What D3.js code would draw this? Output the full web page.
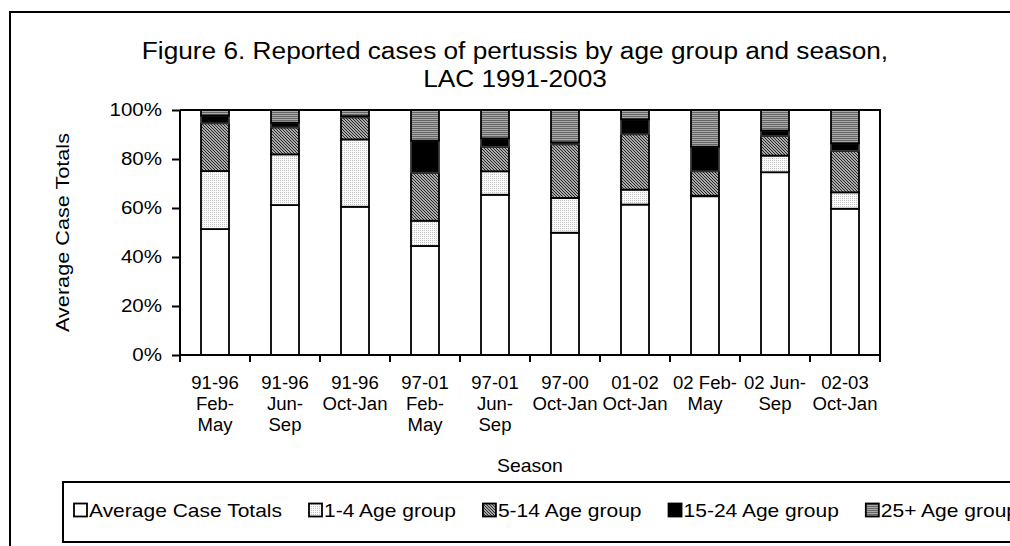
<!DOCTYPE html>
<html><head><meta charset="utf-8">
<script src="https://cdn.jsdelivr.net/npm/d3@7"></script>
<style>
html,body{margin:0;padding:0;background:#fff;}
svg{display:block;font-family:"Liberation Sans",Arial,sans-serif;}
</style></head>
<body><svg id="c" width="1010" height="546"></svg>
<script>
const categories = [
  ["91-96","Feb-","May"],["91-96","Jun-","Sep"],["91-96","Oct-Jan"],
  ["97-01","Feb-","May"],["97-01","Jun-","Sep"],["97-00","Oct-Jan"],
  ["01-02","Oct-Jan"],["02 Feb-","May"],["02 Jun-","Sep"],["02-03","Oct-Jan"]
];
const seriesNames = ["Average Case Totals","1-4 Age group","5-14 Age group","15-24 Age group","25+ Age group"];
const avgCaseTotals = [51.4, 61.2, 60.5, 44.5, 65.4, 49.9, 61.4, 64.8, 74.6, 59.7];
const age1to4      = [23.7, 20.7, 27.5, 10.3,  9.6, 14.2,  6.1,  0.2,  6.8,  6.7];
const age5to14     = [19.5, 11.0,  9.0, 19.6, 10.0, 21.9, 22.6, 10.0,  8.0, 16.9];
const age15to24    = [ 3.1,  1.9,  0.5, 13.1,  3.4,  0.8,  6.1, 10.0,  2.2,  3.1];
const age25plus    = [ 2.3,  5.2,  2.5, 12.5, 11.6, 13.2,  3.8, 15.0,  8.4, 13.6];
const yTicks = [0, 20, 40, 60, 80, 100];
const titleLines = ["Figure 6. Reported cases of pertussis by age group and season,","LAC 1991-2003"];

const svg = d3.select("#c");
const defs = svg.append("defs");
function stretch(sel, k){
  sel.each(function(){
    const len = this.getComputedTextLength();
    d3.select(this).attr("textLength", len*k).attr("lengthAdjust","spacingAndGlyphs");
  });
  return sel;
}
// patterns
const p1 = defs.append("pattern").attr("id","pDot").attr("patternUnits","userSpaceOnUse").attr("width",2).attr("height",2);
p1.append("rect").attr("width",2).attr("height",2).attr("fill","#fafafa");
p1.append("rect").attr("x",0).attr("y",0).attr("width",1).attr("height",1).attr("fill","#c4c4c4");
const p2 = defs.append("pattern").attr("id","pDiag").attr("patternUnits","userSpaceOnUse").attr("width",3).attr("height",3);
p2.append("rect").attr("width",3).attr("height",3).attr("fill","#e6e6e6");
p2.append("path").attr("d","M0,0L3,3M-1,2L1,4M2,-1L4,1").attr("stroke","#222").attr("stroke-width",1.2);
const p3 = defs.append("pattern").attr("id","pHor").attr("patternUnits","userSpaceOnUse").attr("width",4).attr("height",2);
p3.append("rect").attr("width",4).attr("height",2).attr("fill","#aaa");
p3.append("rect").attr("y",0).attr("width",4).attr("height",1).attr("fill","#666");
const fills = ["#fff","url(#pDot)","url(#pDiag)","#000","url(#pHor)"];

// outer frame
svg.append("rect").attr("x",10).attr("y",12).attr("width",1030).attr("height",560)
  .attr("fill","none").attr("stroke","#000").attr("stroke-width",2);

// title
const tt = svg.selectAll("text.title").data(titleLines).join("text").attr("class","title")
  .attr("x",515).attr("y",(d,i)=>59+i*27.5).attr("text-anchor","middle").attr("font-size",23).text(d=>d);
stretch(tt,1.14);

const L=180, R=880, T=110, B=355;
const x = d3.scaleBand().domain(d3.range(categories.length)).range([L,R]).paddingInner(0.6).paddingOuter(0.3);
const xb = d3.scaleBand().domain(d3.range(categories.length)).range([L,R]);
const y = d3.scaleLinear().domain([0,100]).range([B,T]);

const rows = categories.map((c,i)=>({i, s0:avgCaseTotals[i], s1:age1to4[i], s2:age5to14[i], s3:age15to24[i], s4:age25plus[i]}));
const stack = d3.stack().keys(["s0","s1","s2","s3","s4"])(rows);

// plot border top/right
svg.append("path").attr("d",`M${L},${T}H${R}V${B}`).attr("fill","none").attr("stroke","#000").attr("stroke-width",2);

stack.forEach((layer,k)=>{
  svg.append("g").selectAll("rect").data(layer).join("rect")
    .attr("x",d=>x(d.data.i)).attr("width",x.bandwidth())
    .attr("y",d=>y(d[1])).attr("height",d=>y(d[0])-y(d[1]))
    .attr("fill",fills[k]).attr("stroke",k===3?"#333":"#000").attr("stroke-width",1.8);
});

// y axis
const ya = svg.append("g").attr("transform",`translate(${L},0)`)
  .call(d3.axisLeft(y).tickValues(yTicks).tickFormat(d=>d+"%").tickSize(8).tickPadding(10));
ya.select(".domain").attr("stroke","#000").attr("stroke-width",2).attr("d",`M0,${T}V${B+7}`);
ya.selectAll(".tick line").attr("stroke","#000").attr("stroke-width",2);
const yt = ya.selectAll(".tick text").attr("font-size",18.5).attr("fill","#000").attr("font-family","Liberation Sans, Arial, sans-serif");
stretch(yt,1.11);

// x axis
const xa = svg.append("g").attr("transform",`translate(0,${B})`);
xa.append("line").attr("x1",L).attr("x2",R).attr("stroke","#000").attr("stroke-width",2);
xa.selectAll("line.t").data(d3.range(categories.length+1)).join("line").attr("class","t")
  .attr("x1",i=>i<categories.length?xb(i):R).attr("x2",i=>i<categories.length?xb(i):R)
  .attr("y1",0).attr("y2",7).attr("stroke","#000").attr("stroke-width",2);
const lines = [];
categories.forEach((c,i)=>c.forEach((s,j)=>lines.push({i,j,s})));
const xl = xa.selectAll("text.l").data(lines).join("text").attr("class","l")
  .attr("text-anchor","middle").attr("font-size",18)
  .attr("x",d=>xb(d.i)+xb.bandwidth()/2).attr("y",d=>34+d.j*21).text(d=>d.s);
stretch(xl,1.03);

// axis titles
stretch(svg.append("text").attr("x",530).attr("y",472).attr("text-anchor","middle").attr("font-size",18.5).text("Season"),1.05);
const yTitle = svg.append("text").attr("transform","translate(69,232.5) rotate(-90)").attr("text-anchor","middle").attr("font-size",18.5).text("Average Case Totals");
yTitle.attr("textLength",199).attr("lengthAdjust","spacingAndGlyphs");

// legend
svg.append("rect").attr("x",63).attr("y",482).attr("width",1000).attr("height",60)
  .attr("fill","none").attr("stroke","#000").attr("stroke-width",2);
let lx = 74;
seriesNames.forEach((name,i)=>{
  const g = svg.append("g").attr("transform",`translate(${lx},510)`);
  g.append("rect").attr("x",0).attr("y",-6.5).attr("width",13).attr("height",13)
    .attr("fill",fills[i]).attr("stroke","#000").attr("stroke-width",1.8);
  const t = g.append("text").attr("x",15).attr("y",6.6).attr("font-size",18.5).text(name);
  stretch(t,1.135);
  lx += 15 + (+t.attr("textLength")) + 27;
});
</script></body></html>
